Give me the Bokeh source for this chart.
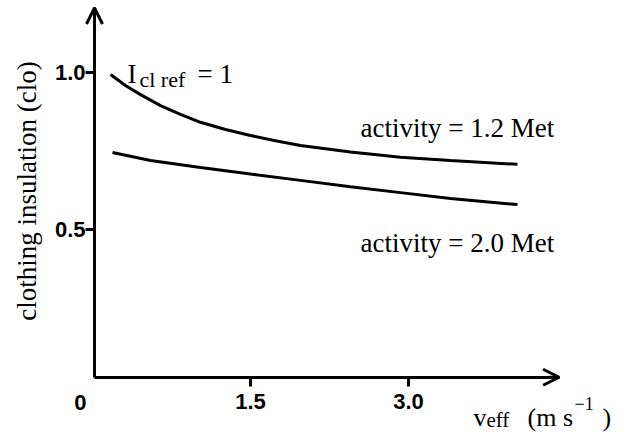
import math
from bokeh.plotting import figure
from bokeh.models import Range1d, FixedTicker, Label, Arrow, OpenHead
from bokeh.embed import file_html
from bokeh.resources import INLINE

# ---- data ----
v_met12 = [0.171, 0.313, 0.456, 0.646, 0.835, 1.025, 1.263, 1.500, 1.737,
           1.975, 2.449, 2.924, 3.399, 4.035]
clo_met12 = [0.993, 0.958, 0.929, 0.894, 0.866, 0.841, 0.818, 0.799, 0.782,
             0.767, 0.746, 0.730, 0.719, 0.707]

v_met20 = [0.190, 0.551, 1.025, 1.500, 1.975, 2.449, 2.924, 3.399, 4.035]
clo_met20 = [0.745, 0.719, 0.697, 0.676, 0.656, 0.636, 0.617, 0.598, 0.579]

x_ticks = [1.5, 3.0]
x_tick_labels = {1.5: "1.5", 3.0: "3.0"}
y_ticks = [0.5, 1.0]
y_tick_labels = {0.5: "0.5", 1.0: "1.0"}

# axis extents (origin corner and arrow tips)
X0, X1 = 0.019, 4.43
Y0, Y1 = 0.029, 1.205
# whole-canvas view
VX0, VX1 = -0.8734, 5.1173
VY0, VY1 = -0.1469, 1.2288

SERIF = "Liberation Serif"
SANS = "Liberation Sans"

p = figure(width=631, height=432, output_backend="svg", toolbar_location=None,
           x_range=Range1d(VX0, VX1), y_range=Range1d(VY0, VY1),
           min_border=0)
p.outline_line_color = None
p.xgrid.visible = False
p.ygrid.visible = False
p.background_fill_color = "white"
p.border_fill_color = "white"

p.xaxis.fixed_location = Y0
p.xaxis.bounds = (X0, X1)
p.yaxis.fixed_location = X0
p.yaxis.bounds = (Y0, Y1)

for ax in (p.xaxis[0], p.yaxis[0]):
    ax.axis_line_width = 3
    ax.axis_line_color = "black"
    ax.major_tick_line_width = 3
    ax.major_tick_line_color = "black"
    ax.major_tick_in = 0
    ax.minor_tick_line_color = None
    ax.major_label_text_font = SANS
    ax.major_label_text_font_style = "bold"
    ax.major_label_text_font_size = "22px"
    ax.major_label_text_color = "black"

p.xaxis.ticker = FixedTicker(ticks=x_ticks)
p.xaxis.major_label_overrides = x_tick_labels
p.xaxis.major_tick_out = 9
p.xaxis.major_label_standoff = 8

p.yaxis.ticker = FixedTicker(ticks=y_ticks)
p.yaxis.major_label_overrides = y_tick_labels
p.yaxis.major_tick_out = 9
p.yaxis.major_label_standoff = 0
p.yaxis.major_label_orientation = "horizontal"

# curves
p.line(v_met12, clo_met12, line_width=3, line_color="black")
p.line(v_met20, clo_met20, line_width=3, line_color="black")

# axis arrows
p.add_layout(Arrow(end=OpenHead(size=16, line_width=3, line_color="black"),
                   x_start=X0, y_start=Y1 - 0.1, x_end=X0, y_end=Y1,
                   line_width=3, line_color="black"))
p.add_layout(Arrow(end=OpenHead(size=16, line_width=3, line_color="black"),
                   x_start=X1 - 0.1, y_start=Y0, x_end=X1, y_end=Y0,
                   line_width=3, line_color="black"))

def lab(x, y, text, size="27px", font=SERIF, style="normal", align="left",
        baseline="alphabetic", angle=0.0):
    p.add_layout(Label(x=x, y=y, text=text, text_font=font, text_font_size=size,
                       text_font_style=style, text_align=align, text_baseline=baseline,
                       text_color="black", angle=angle))

# y axis title
lab(-0.62, 0.633, "clothing insulation  (clo)", align="center", baseline="middle",
    angle=math.pi / 2)

# curve annotations
lab(0.332, 0.996, "I")
lab(0.446, 0.977, "cl ref", size="22px")
lab(0.997, 0.996, "= 1")
lab(2.544, 0.824, "activity = 1.2 Met")
lab(2.544, 0.455, "activity = 2.0 Met")

# origin label
lab(-0.114, -0.026, "0", size="22px", font=SANS, style="bold", align="center", baseline="top")

# x axis title  v_eff (m s^-1)
lab(3.617, -0.0992, "v", size="26px")
lab(3.740, -0.1085, "eff", size="21px")
lab(4.130, -0.0992, "(m s", size="26px")
lab(4.576, -0.0547, "\u22121", size="18px")
lab(4.842, -0.0992, ")", size="26px")

open("out.html", "w").write(file_html(p, INLINE))
